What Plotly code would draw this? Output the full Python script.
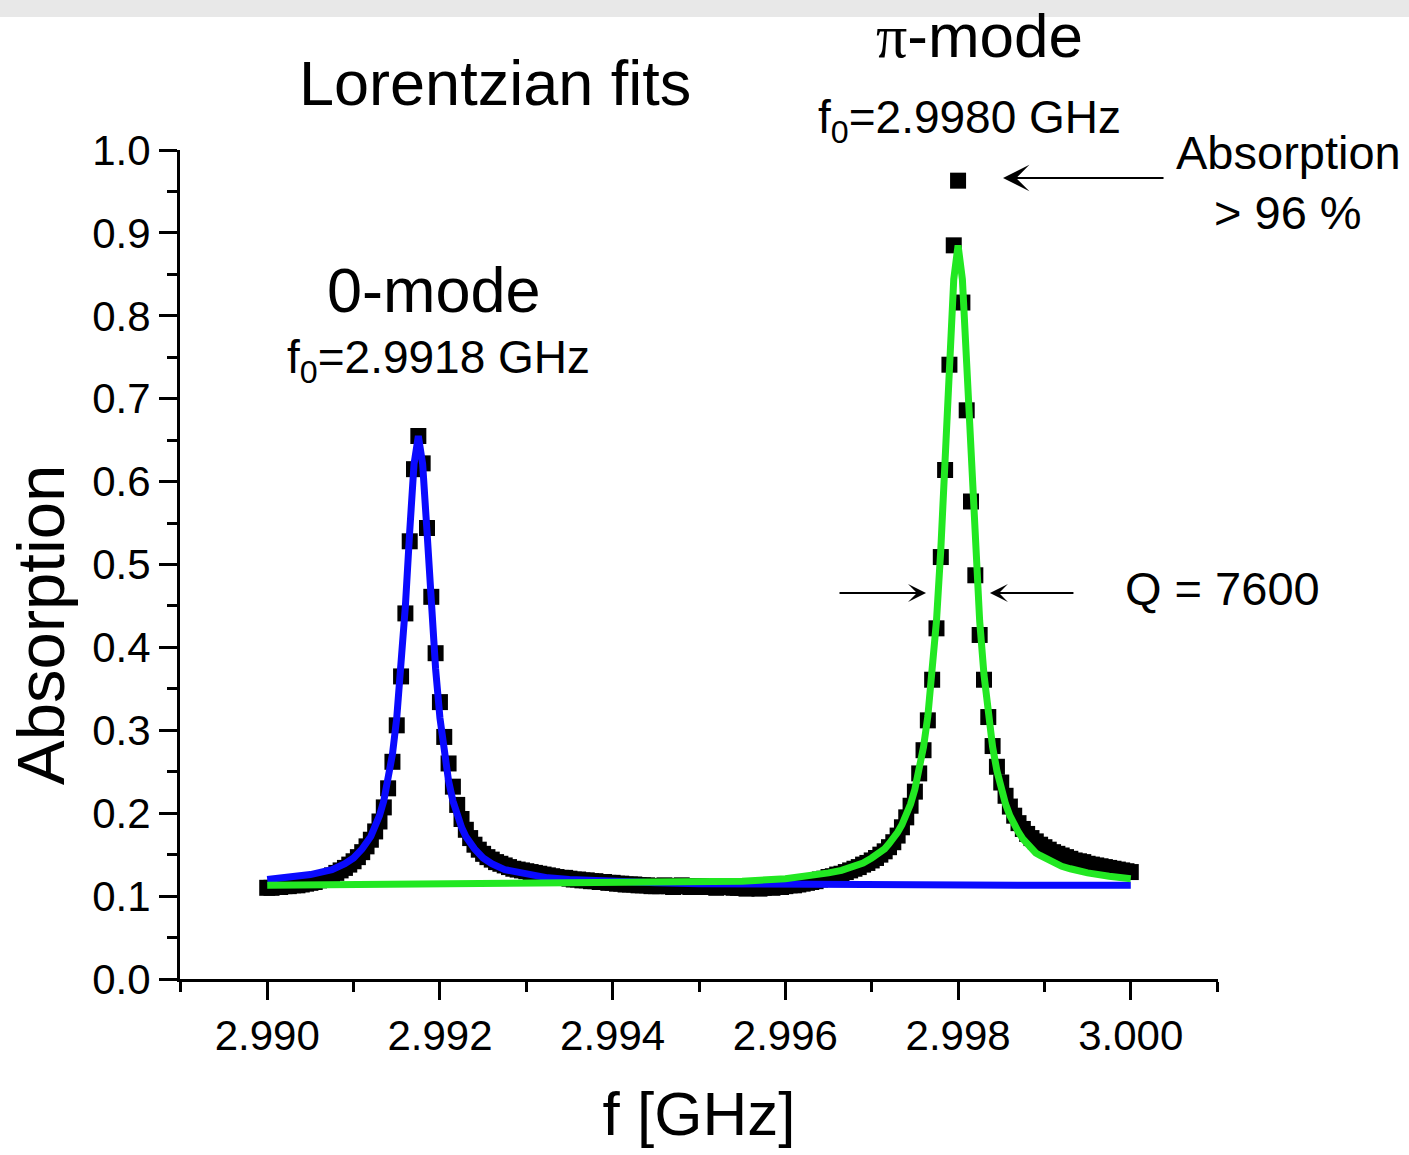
import plotly.graph_objects as go

# ---------------- data ----------------
FREQ = [
    2.99000, 2.99005, 2.99010, 2.99015, 2.99020, 2.99025, 2.99030, 2.99035, 2.99040, 2.99045,
    2.99050, 2.99055, 2.99060, 2.99065, 2.99070, 2.99075, 2.99080, 2.99085, 2.99090, 2.99095,
    2.99100, 2.99105, 2.99110, 2.99115, 2.99120, 2.99125, 2.99130, 2.99135, 2.99140, 2.99145,
    2.99150, 2.99155, 2.99160, 2.99165, 2.99170, 2.99175, 2.99180, 2.99185, 2.99190, 2.99195,
    2.99200, 2.99205, 2.99210, 2.99215, 2.99220, 2.99225, 2.99230, 2.99235, 2.99240, 2.99245,
    2.99250, 2.99255, 2.99260, 2.99265, 2.99270, 2.99275, 2.99280, 2.99285, 2.99290, 2.99295,
    2.99300, 2.99305, 2.99310, 2.99315, 2.99320, 2.99325, 2.99330, 2.99335, 2.99340, 2.99345,
    2.99350, 2.99355, 2.99360, 2.99365, 2.99370, 2.99375, 2.99380, 2.99385, 2.99390, 2.99395,
    2.99400, 2.99405, 2.99410, 2.99415, 2.99420, 2.99425, 2.99430, 2.99435, 2.99440, 2.99445,
    2.99450, 2.99455, 2.99460, 2.99465, 2.99470, 2.99475, 2.99480, 2.99485, 2.99490, 2.99495,
    2.99500, 2.99505, 2.99510, 2.99515, 2.99520, 2.99525, 2.99530, 2.99535, 2.99540, 2.99545,
    2.99550, 2.99555, 2.99560, 2.99565, 2.99570, 2.99575, 2.99580, 2.99585, 2.99590, 2.99595,
    2.99600, 2.99605, 2.99610, 2.99615, 2.99620, 2.99625, 2.99630, 2.99635, 2.99640, 2.99645,
    2.99650, 2.99655, 2.99660, 2.99665, 2.99670, 2.99675, 2.99680, 2.99685, 2.99690, 2.99695,
    2.99700, 2.99705, 2.99710, 2.99715, 2.99720, 2.99725, 2.99730, 2.99735, 2.99740, 2.99745,
    2.99750, 2.99755, 2.99760, 2.99765, 2.99770, 2.99775, 2.99780, 2.99785, 2.99790, 2.99795,
    2.99800, 2.99805, 2.99810, 2.99815, 2.99820, 2.99825, 2.99830, 2.99835, 2.99840, 2.99845,
    2.99850, 2.99855, 2.99860, 2.99865, 2.99870, 2.99875, 2.99880, 2.99885, 2.99890, 2.99895,
    2.99900, 2.99905, 2.99910, 2.99915, 2.99920, 2.99925, 2.99930, 2.99935, 2.99940, 2.99945,
    2.99950, 2.99955, 2.99960, 2.99965, 2.99970, 2.99975, 2.99980, 2.99985, 2.99990, 2.99995,
    3.00000,
]

ABSORPTION = [
    0.110, 0.110, 0.111, 0.111, 0.112, 0.112, 0.113, 0.113, 0.114, 0.115,
    0.116, 0.117, 0.119, 0.121, 0.123, 0.125, 0.128, 0.131, 0.134, 0.138,
    0.142, 0.147, 0.153, 0.160, 0.168, 0.178, 0.190, 0.207, 0.230, 0.262,
    0.306, 0.365, 0.441, 0.528, 0.615, 0.655,
    0.622, 0.544, 0.461, 0.393, 0.334, 0.292, 0.260, 0.232, 0.210, 0.193,
    0.180, 0.170, 0.162, 0.156, 0.151, 0.147, 0.144, 0.141, 0.139, 0.137,
    0.135, 0.133, 0.132, 0.131, 0.130, 0.129, 0.128, 0.127, 0.126, 0.125,
    0.124, 0.123, 0.122, 0.122, 0.121, 0.120, 0.120, 0.119, 0.119, 0.118,
    0.118, 0.117, 0.117, 0.116, 0.116, 0.115, 0.115, 0.114, 0.114, 0.114,
    0.113, 0.113, 0.113, 0.112, 0.112, 0.112, 0.113, 0.112, 0.111, 0.112,
    0.113, 0.112, 0.111, 0.112, 0.112, 0.111, 0.112, 0.111, 0.110, 0.111,
    0.112, 0.111, 0.110, 0.110, 0.110, 0.109, 0.110, 0.110, 0.109, 0.110,
    0.111, 0.110, 0.111, 0.111, 0.112, 0.113, 0.113, 0.114, 0.115, 0.116,
    0.117, 0.118, 0.120, 0.121, 0.123, 0.124, 0.126, 0.127, 0.129, 0.131,
    0.133, 0.135, 0.138, 0.140, 0.143, 0.146, 0.150, 0.154, 0.159, 0.165,
    0.173, 0.183, 0.195, 0.209, 0.226, 0.248, 0.276, 0.312, 0.361, 0.423,
    0.509, 0.614, 0.741, 0.885, 0.963,
    0.816, 0.686, 0.576, 0.487, 0.415, 0.361, 0.316, 0.281, 0.256, 0.237,
    0.221, 0.208, 0.197, 0.188, 0.181, 0.175, 0.170, 0.166, 0.162, 0.159,
    0.156, 0.153, 0.151, 0.149, 0.147, 0.145, 0.143, 0.142, 0.141, 0.139,
    0.138, 0.137, 0.136, 0.135, 0.134, 0.133, 0.132, 0.131, 0.130, 0.129,
]

# Lorentzian fit of the 0-mode (blue)
FIT0_FREQ = [
    2.99000, 2.99025, 2.99050, 2.99075, 2.99090, 2.99100, 2.99110,
    2.99120, 2.99125, 2.99130, 2.99135, 2.99140, 2.99145, 2.99150, 2.99155,
    2.99160, 2.99165, 2.99170, 2.99175, 2.99180, 2.99185, 2.99190, 2.99195,
    2.99200, 2.99205, 2.99210, 2.99215, 2.99220, 2.99225, 2.99230,
    2.99240, 2.99250, 2.99260, 2.99275, 2.99300, 2.99325, 2.99350,
    2.99400, 2.99450, 2.99500, 2.99600, 2.99700, 2.99800, 2.99900, 3.00000,
]
FIT0_ABS = [
    0.120, 0.122, 0.126, 0.132, 0.139, 0.146, 0.157,
    0.172, 0.183, 0.197, 0.215, 0.239, 0.271, 0.315, 0.374,
    0.450, 0.540, 0.621, 0.655, 0.621, 0.540, 0.450, 0.374,
    0.315, 0.271, 0.239, 0.215, 0.197, 0.183, 0.172,
    0.157, 0.146, 0.139, 0.132, 0.126, 0.122, 0.120,
    0.117, 0.116, 0.115, 0.114, 0.114, 0.1135, 0.113, 0.113,
]

# Lorentzian fit of the pi-mode (green)
FITPI_FREQ = [
    2.99000, 2.99100, 2.99200, 2.99300, 2.99400, 2.99500, 2.99550, 2.99600,
    2.99625, 2.99650, 2.99665, 2.99680, 2.99690,
    2.99700, 2.99705, 2.99710, 2.99715, 2.99720, 2.99725, 2.99730, 2.99735,
    2.99740, 2.99745, 2.99750, 2.99755, 2.99760, 2.99765, 2.99770, 2.99775,
    2.99780, 2.99785, 2.99790, 2.99795, 2.99800, 2.99805, 2.99810, 2.99815,
    2.99820, 2.99825, 2.99830, 2.99835, 2.99840, 2.99845, 2.99850, 2.99855,
    2.99860, 2.99865, 2.99870, 2.99875, 2.99880, 2.99885, 2.99890, 2.99895,
    2.99900, 2.99910, 2.99920, 2.99930, 2.99940, 2.99950, 2.99975, 3.00000,
]
FITPI_ABS = [
    0.113, 0.114, 0.114, 0.114, 0.115, 0.117, 0.118, 0.121,
    0.124, 0.128, 0.131, 0.136, 0.140,
    0.146, 0.149, 0.152, 0.157, 0.163, 0.169, 0.177, 0.186,
    0.197, 0.211, 0.229, 0.251, 0.280, 0.317, 0.367, 0.432,
    0.518, 0.624, 0.742, 0.844, 0.885, 0.844, 0.742, 0.624,
    0.518, 0.432, 0.367, 0.317, 0.280, 0.251, 0.229, 0.211,
    0.197, 0.186, 0.177, 0.169, 0.163, 0.157, 0.152, 0.149,
    0.146, 0.140, 0.136, 0.133, 0.130, 0.128, 0.124, 0.121,
]

X_TICKS = [2.990, 2.992, 2.994, 2.996, 2.998, 3.000]
X_MINOR = [2.989, 2.991, 2.993, 2.995, 2.997, 2.999, 3.001]
Y_TICKS = [0.0, 0.1, 0.2, 0.3, 0.4, 0.5, 0.6, 0.7, 0.8, 0.9, 1.0]
Y_MINOR = [0.05, 0.15, 0.25, 0.35, 0.45, 0.55, 0.65, 0.75, 0.85, 0.95]

# ---------------- figure ----------------
FONT = "Liberation Sans, Arial, Helvetica, sans-serif"

fig = go.Figure()
fig.add_trace(go.Scatter(
    x=FREQ, y=ABSORPTION, mode="markers", name="data",
    marker=dict(symbol="square", size=16, color="black", line=dict(width=0)),
))
fig.add_trace(go.Scatter(
    x=FIT0_FREQ, y=FIT0_ABS, mode="lines", name="0-mode fit",
    line=dict(color="#0a0aff", width=7),
))
fig.add_trace(go.Scatter(
    x=FITPI_FREQ, y=FITPI_ABS, mode="lines", name="pi-mode fit",
    line=dict(color="#22e822", width=7),
))

axis_common = dict(
    showline=True, linecolor="black", linewidth=3,
    ticks="outside", tickcolor="black", tickwidth=3, ticklen=18,
    showgrid=False, zeroline=False, mirror=False,
    tickfont=dict(family=FONT, size=42, color="black"),
)

fig.update_xaxes(
    **axis_common,
    range=[2.98899, 3.00101],
    tickmode="array", tickvals=X_TICKS, tickformat=".3f",
    minor=dict(ticks="outside", tickvals=X_MINOR, ticklen=10, tickwidth=3, tickcolor="black"),
    title=dict(text="f [GHz]", font=dict(family=FONT, size=62, color="black"), standoff=34),
)
fig.update_yaxes(
    **axis_common,
    range=[0, 1.0],
    tickmode="array", tickvals=Y_TICKS, tickformat=".1f",
    minor=dict(ticks="outside", tickvals=Y_MINOR, ticklen=10, tickwidth=3, tickcolor="black"),
)

def ann(text, x, y, size, angle=0):
    fig.add_annotation(text=text, x=x, y=y, xref="paper", yref="paper",
                       xanchor="center", yanchor="middle", showarrow=False,
                       textangle=angle,
                       font=dict(family=FONT, size=size, color="black"))

# y-axis title (placed lower than the plot centre, as in the original)
ann("Absorption", -0.1349, 0.427, 67, angle=-90)

ann("Lorentzian fits", 0.3035, 1.0808, 63)
ann('<span style="font-family:Liberation Serif, Times New Roman, serif">π</span>-mode', 0.7707, 1.1387, 62)
ann("f<sub>0</sub>=2.9980 GHz", 0.761, 1.0350, 46)
ann("0-mode", 0.2447, 0.8311, 63)
ann("f<sub>0</sub>=2.9918 GHz", 0.249, 0.7455, 46)
ann("Absorption", 1.0679, 0.9964, 47)
ann("> 96 %", 1.0674, 0.9252, 47)
ann("Q = 7600", 1.0043, 0.4710, 47)

def arrow(x, y, ax, size):
    fig.add_annotation(text="", x=x, y=y, xref="paper", yref="paper",
                       ax=ax, ay=0, showarrow=True, arrowhead=3,
                       arrowsize=size, arrowwidth=2, arrowcolor="black")

arrow(0.7929, 0.9662, 162, 2.2)
arrow(0.7187, 0.4656, -88, 1.5)
arrow(0.7803, 0.4656, 85, 1.5)

# light grey strip across the top of the page
fig.add_shape(type="rect", xref="paper", yref="paper",
              x0=-0.3, x1=1.3, y0=1.1605, y1=1.25,
              fillcolor="#e8e8e8", line=dict(width=0), layer="below")

fig.update_layout(
    width=1409, height=1155,
    margin=dict(l=180, r=191, t=150, b=176),
    plot_bgcolor="white", paper_bgcolor="white",
    showlegend=False,
    font=dict(family=FONT, color="black"),
)

fig.write_html("out.html")
